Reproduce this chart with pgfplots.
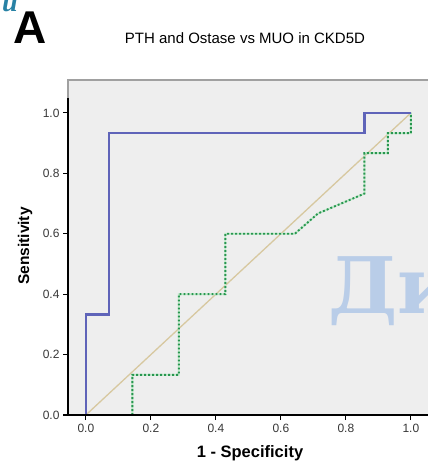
\documentclass[border=0pt]{standalone}
\usepackage{pgfplots}
\pgfplotsset{compat=1.18}
\usepackage{fontspec}
\setmainfont{Liberation Sans}
\newfontfamily\wmfont{DejaVu Serif}
\newfontfamily\ufont{Liberation Serif}
\definecolor{bgc}{RGB}{238,238,238}
\definecolor{framec}{RGB}{160,160,160}
\definecolor{bluec}{RGB}{95,100,185}
\definecolor{greenc}{RGB}{40,150,80}
\definecolor{greenl}{RGB}{190,232,200}
\definecolor{diagc}{RGB}{215,200,160}
\definecolor{tickc}{RGB}{55,55,55}
\definecolor{wmc}{RGB}{185,205,232}
\definecolor{tealc}{RGB}{40,130,165}
\begin{document}
\begin{tikzpicture}
  \useasboundingbox (0pt,0pt) rectangle (428pt,-463pt);
  \begin{axis}[
      at={(68pt,-415pt)}, anchor=south west,
      scale only axis,
      width=368.9pt, height=335pt,
      xmin=-0.055, xmax=1.08,
      ymin=0, ymax=1.109,
      clip=false,
      axis background/.style={fill=bgc},
      axis line style={draw=framec, line width=1.6pt},
      xtick={0,0.2,0.4,0.6,0.8,1.0},
      ytick={0,0.2,0.4,0.6,0.8,1.0},
      tick align=outside,
      tick pos=left,
      major tick length=5pt,
      tick style={black, line width=1.1pt},
      ticklabel style={font=\fontsize{12}{14}\selectfont, text=tickc},
      xticklabel style={yshift=-1pt},
      xticklabel={\pgfmathprintnumber[fixed,fixed zerofill,precision=1,assume math mode=true]{\tick}},
      yticklabel={\pgfmathprintnumber[fixed,fixed zerofill,precision=1,assume math mode=true]{\tick}},
    ]
    % reference diagonal
    \addplot[diagc, line width=1.3pt] coordinates {(0,0) (1,1)};
    % Ostase (dotted green)
    \addplot[greenl, line width=1.8pt] coordinates {
      (0.143,0) (0.143,0.133) (0.286,0.133) (0.286,0.4) (0.429,0.4)
      (0.429,0.6) (0.643,0.6) (0.714,0.667) (0.857,0.733) (0.857,0.867)
      (0.929,0.867) (0.929,0.933) (1,0.933) (1,1)
    };
    \addplot[greenc, line width=1.9pt, dash pattern=on 1.9pt off 2.1pt] coordinates {
      (0.143,0) (0.143,0.133) (0.286,0.133) (0.286,0.4) (0.429,0.4)
      (0.429,0.6) (0.643,0.6) (0.714,0.667) (0.857,0.733) (0.857,0.867)
      (0.929,0.867) (0.929,0.933) (1,0.933) (1,1)
    };
    % PTH (solid blue)
    \addplot[bluec, line width=2.2pt] coordinates {
      (0,0) (0,0.333) (0.071,0.333) (0.071,0.933) (0.857,0.933) (0.857,1) (1,1)
    };
    % black axis lines
    \draw[black, line width=1.4pt] (axis cs:-0.055,1.05) -- (axis cs:-0.055,0) -- (axis cs:1.08,0);
  \end{axis}
  \node[font=\bfseries\fontsize{15.5}{17}\selectfont, rotate=90] at (25pt,-246pt) {Sensitivity};
  \node[font=\bfseries\fontsize{16.5}{18}\selectfont] at (250pt,-453pt) {1 - Specificity};
  \node[font=\fontsize{15}{17}\selectfont] at (245pt,-38.5pt) {PTH and Ostase vs MUO in CKD5D};
  \node[font=\bfseries\fontsize{46}{50}\selectfont, anchor=base, inner sep=0pt] at (30pt,-43pt) {A};
  \node[font=\ufont\bfseries\itshape\fontsize{28}{30}\selectfont, text=tealc, anchor=base west, inner sep=0pt] at (2pt,-12pt) {u};
  \node[font=\wmfont\bfseries\fontsize{78}{84}\selectfont, text=wmc, anchor=base west, inner sep=0pt] at (328pt,-313pt) {Ди};
\end{tikzpicture}
\end{document}
